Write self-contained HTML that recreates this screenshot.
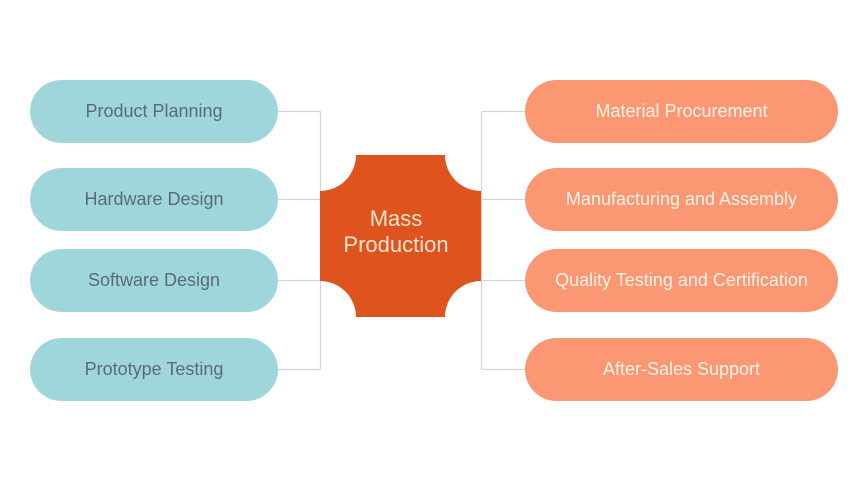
<!DOCTYPE html>
<html><head><meta charset="utf-8"><style>
html,body{margin:0;padding:0;background:#fff;}
body{width:868px;height:480px;position:relative;overflow:hidden;font-family:"Liberation Sans",sans-serif;}
.p{position:absolute;height:63px;border-radius:31.5px;display:flex;align-items:center;justify-content:center;font-size:18px;}
.l{left:30px;width:248px;background:#9fd6dc;color:#5b6b72;}
.r{left:525px;width:313px;background:#fb9773;color:#fff3ea;}
</style></head><body>
<svg width="868" height="480" style="position:absolute;left:0;top:0">
<g stroke="#d4d4d4" stroke-width="1.2" fill="none">
<path d="M278 111.5H320.5M278 199.5H320.5M278 280.5H320.5M278 369.5H320.5M320.5 111.5V369.5"/>
<path d="M525 111.5H481.5M525 199.5H481.5M525 280.5H481.5M525 369.5H481.5M481.5 111.5V369.5"/>
</g>
<path d="M356 155H445A36 36 0 0 0 481 191V281A36 36 0 0 0 445 317H356A36 36 0 0 0 320 281V191A36 36 0 0 0 356 155Z" fill="#df531e"/>
<text x="396" y="226" text-anchor="middle" font-family="Liberation Sans" font-size="22" fill="#fde6cf">Mass</text>
<text x="396" y="252" text-anchor="middle" font-family="Liberation Sans" font-size="22" fill="#fde6cf">Production</text>
</svg>
<div class="p l" style="top:80px">Product Planning</div>
<div class="p l" style="top:168px">Hardware Design</div>
<div class="p l" style="top:249px">Software Design</div>
<div class="p l" style="top:338px">Prototype Testing</div>
<div class="p r" style="top:80px">Material Procurement</div>
<div class="p r" style="top:168px">Manufacturing and Assembly</div>
<div class="p r" style="top:249px">Quality Testing and Certification</div>
<div class="p r" style="top:338px">After-Sales Support</div>
</body></html>
